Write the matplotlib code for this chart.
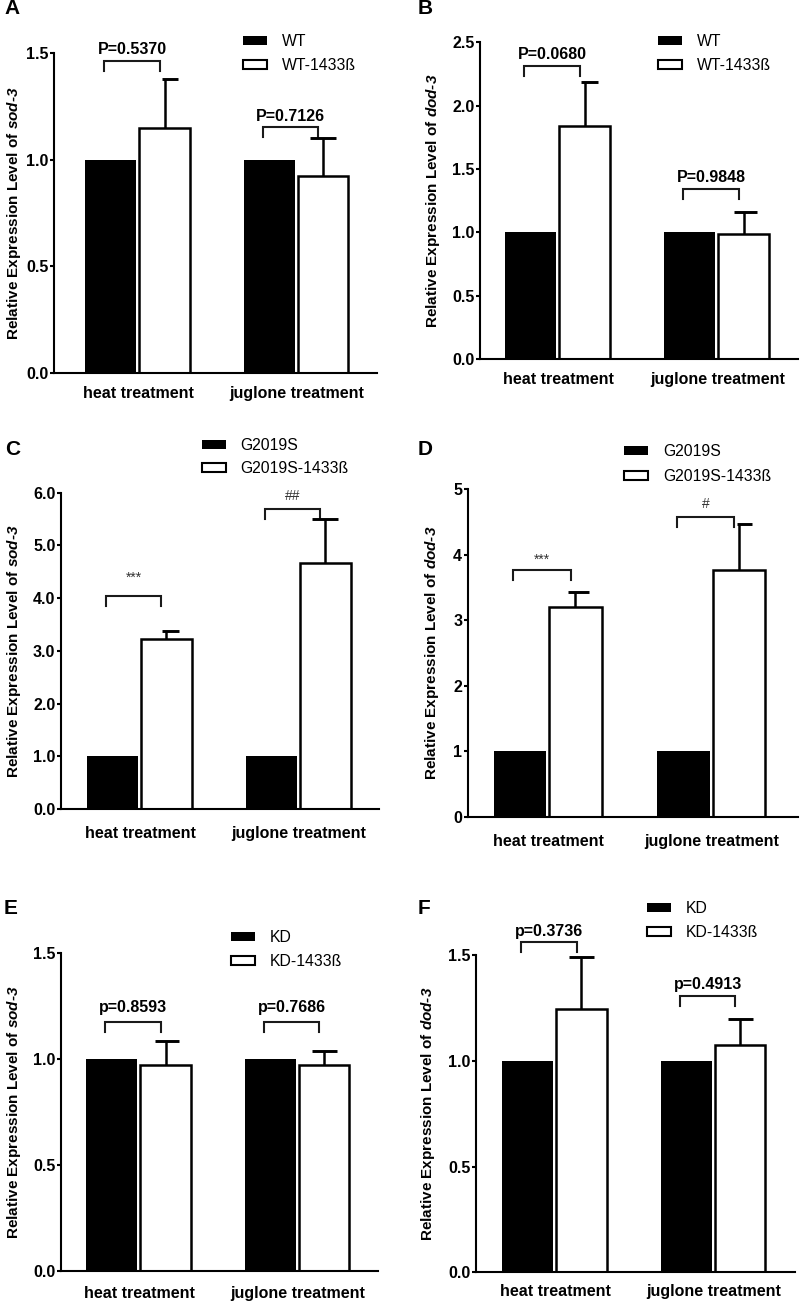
import matplotlib
matplotlib.use("Agg")
import matplotlib.pyplot as plt
from matplotlib.patches import Patch

plt.rcParams['font.family'] = ['Liberation Sans', 'DejaVu Sans']
plt.rcParams['mathtext.fontset'] = 'custom'
plt.rcParams['mathtext.rm'] = 'Liberation Sans'
plt.rcParams['mathtext.it'] = 'Liberation Sans:italic'
plt.rcParams['mathtext.bf'] = 'Liberation Sans:bold'
plt.rcParams['mathtext.bfit'] = 'Liberation Sans:italic:bold'

# ---------------- data ----------------
categories = ['heat treatment', 'juglone treatment']

a_names = ['WT', 'WT-1433ß']
a_ctrl = [1.0, 1.0]
a_treat = [1.148, 0.924]
a_err = [0.231, 0.180]
a_sig = ['P=0.5370', 'P=0.7126']
a_brk = [1.464, 1.155]

b_names = ['WT', 'WT-1433ß']
b_ctrl = [1.0, 1.0]
b_treat = [1.84, 0.986]
b_err = [0.35, 0.174]
b_sig = ['P=0.0680', 'P=0.9848']
b_brk = [2.315, 1.34]

c_names = ['G2019S', 'G2019S-1433ß']
c_ctrl = [1.0, 1.0]
c_treat = [3.225, 4.67]
c_err = [0.155, 0.825]
c_sig = ['***', '##']
c_brk = [4.04, 5.70]

d_names = ['G2019S', 'G2019S-1433ß']
d_ctrl = [1.0, 1.0]
d_treat = [3.198, 3.767]
d_err = [0.238, 0.698]
d_sig = ['***', '#']
d_brk = [3.767, 4.58]

e_names = ['KD', 'KD-1433ß']
e_ctrl = [1.0, 1.0]
e_treat = [0.972, 0.972]
e_err = [0.112, 0.068]
e_sig = ['p=0.8593', 'p=0.7686']
e_brk = [1.177, 1.177]

f_names = ['KD', 'KD-1433ß']
f_ctrl = [1.0, 1.0]
f_treat = [1.243, 1.075]
f_err = [0.249, 0.121]
f_sig = ['p=0.3736', 'p=0.4913']
f_brk = [1.56, 1.308]

ticks_15 = [0.0, 0.5, 1.0, 1.5]
ticks_25 = [0.0, 0.5, 1.0, 1.5, 2.0, 2.5]
ticks_6 = [0, 1, 2, 3, 4, 5, 6]
ticks_5 = [0, 1, 2, 3, 4, 5]

# ---------------- layout / style ----------------
W, H = 800, 1302
fig = plt.figure(figsize=(W / 100, H / 100), dpi=100)

panels = [
    dict(letter='A', lp=(4, 9), names=a_names, ctrl=a_ctrl, treat=a_treat, err=a_err,
         sig=a_sig, brk=a_brk, gene='sod', ymax=1.5, ticks=ticks_15, fmt='{:.1f}',
         rect=(54, 377, 53.3, 372.7), xlim=(-0.533, 1.505), ylab_d=31.3,
         leg=(243, 43), leg_row=27, capl=[0.014, 0.084], sig_off=[5, 4.5],
         leg_len=0.047, xpad=9.5),
    dict(letter='B', lp=(418, 9), names=b_names, ctrl=b_ctrl, treat=b_treat, err=b_err,
         sig=b_sig, brk=b_brk, gene='dod', ymax=2.5, ticks=ticks_25, fmt='{:.1f}',
         rect=(480, 798, 42.3, 359.3), xlim=(-0.494, 1.506), ylab_d=38.3,
         leg=(658, 43), leg_row=27, capl=[0.025, 0.063], sig_off=[5, 5],
         leg_len=0.079, xpad=9.5),
    dict(letter='C', lp=(5, 450), names=c_names, ctrl=c_ctrl, treat=c_treat, err=c_err,
         sig=c_sig, brk=c_brk, gene='sod', ymax=6.0, ticks=ticks_6, fmt='{:.1f}',
         rect=(61, 379, 492.7, 809), xlim=(-0.497, 1.503), ylab_d=37.7,
         leg=(201.7, 446.7), leg_row=26.6, capl=[0.024, 0.084], sig_off=[10, 6],
         leg_len=0.19, xpad=12),
    dict(letter='D', lp=(418, 450), names=d_names, ctrl=d_ctrl, treat=d_treat, err=d_err,
         sig=d_sig, brk=d_brk, gene='dod', ymax=5.0, ticks=ticks_5, fmt='{:d}',
         rect=(467.7, 798, 489.3, 816.7), xlim=(-0.494, 1.526), ylab_d=27,
         leg=(624, 453.3), leg_row=27.7, capl=[0.045, 0.012], sig_off=[4.6, 6.1],
         leg_len=0.153, xpad=12.5),
    dict(letter='E', lp=(4, 908), names=e_names, ctrl=e_ctrl, treat=e_treat, err=e_err,
         sig=e_sig, brk=e_brk, gene='sod', ymax=1.5, ticks=ticks_15, fmt='{:.1f}',
         rect=(61, 378, 953.3, 1270.7), xlim=(-0.495, 1.505), ylab_d=37.7,
         leg=(230.7, 939), leg_row=26.7, capl=[0.07, 0.074], sig_off=[6.8, 6.8],
         leg_len=0.047, xpad=11),
    dict(letter='F', lp=(418, 908), names=f_names, ctrl=f_ctrl, treat=f_treat, err=f_err,
         sig=f_sig, brk=f_brk, gene='dod', ymax=1.5, ticks=ticks_15, fmt='{:.1f}',
         rect=(476, 795, 955, 1272.3), xlim=(-0.5, 1.511), ylab_d=39.3,
         leg=(647.3, 910), leg_row=26.7, capl=[0.078, 0.078], sig_off=[4.4, 4.5],
         leg_len=0.047, xpad=8.5),
]

BW = 0.32
CAPR = 0.082
LW_BAR = 1.8
FS = 11.5

for p in panels:
    l, r, t, b = p['rect']
    ax = fig.add_axes([l / W, 1 - b / H, (r - l) / W, (b - t) / H])
    x = list(range(len(categories)))
    xb = [xi - 0.175 for xi in x]
    xw = [xi + 0.165 for xi in x]
    ax.bar(xb, p['ctrl'], width=BW, color='black', linewidth=0, zorder=2)
    ax.bar(xw, p['treat'], width=BW, facecolor='white', edgecolor='black',
           linewidth=LW_BAR, zorder=2)
    for i in range(len(categories)):
        top = p['treat'][i] + p['err'][i]
        ax.vlines(xw[i], p['treat'][i], top, color='black', lw=LW_BAR, zorder=3)
        ax.hlines(top, xw[i] - p['capl'][i], xw[i] + CAPR, color='black',
                  lw=LW_BAR + 0.3, zorder=3, clip_on=False)
        xl = xb[i] - 0.04
        xr = xw[i] - 0.03
        h = p['brk'][i]
        ax.plot([xl, xl, xr, xr], [h - p['leg_len'], h, h, h - p['leg_len']],
                color='#1a1a1a', lw=1.5, clip_on=False, solid_joinstyle='miter')
        s = p['sig'][i]
        is_p = s.lower().startswith('p')
        ax.annotate(s, xy=((xl + xr) / 2, h), xytext=(0, p['sig_off'][i]),
                    textcoords='offset points', ha='center', va='baseline',
                    fontsize=FS if is_p else 10,
                    fontweight='bold' if is_p else 'normal',
                    color='black' if is_p else '#333333',
                    annotation_clip=False)

    ax.set_xlim(*p['xlim'])
    ax.set_ylim(0, p['ymax'])
    ax.set_yticks(p['ticks'], [p['fmt'].format(v) for v in p['ticks']],
                  fontsize=FS, fontweight='bold')
    ax.set_xticks(x, categories, fontsize=FS, fontweight='bold')
    ax.tick_params(axis='y', direction='out', length=3, width=1.5, pad=1)
    ax.tick_params(axis='x', length=0, pad=p['xpad'])
    for sp in ['top', 'right']:
        ax.spines[sp].set_visible(False)
    for sp in ['left', 'bottom']:
        ax.spines[sp].set_linewidth(1.5)
    ax.set_ylabel('Relative Expression Level of $\\mathbfit{' + p['gene'] + '‐3}$',
                  fontsize=11, fontweight='bold')
    ax.yaxis.set_label_coords(-p['ylab_d'] / (r - l), 0.5)

    handles = [Patch(facecolor='black', edgecolor='black', linewidth=0),
               Patch(facecolor='white', edgecolor='black', linewidth=1.5)]
    lx, ly = p['leg']
    fsz_px = 11.3 * 100 / 72
    ax.legend(handles, p['names'], loc='upper left',
              bbox_to_anchor=(lx / W, 1 - (ly - 9) / H), bbox_transform=fig.transFigure,
              frameon=False, fontsize=11.3, borderpad=0, borderaxespad=0,
              handlelength=1.53, handleheight=0.53, handletextpad=0.95,
              labelspacing=(p['leg_row'] - 18) / fsz_px)

    fig.text(p['lp'][0] / W, 1 - p['lp'][1] / H, p['letter'], fontsize=15,
             fontweight='bold', ha='left', va='center')

fig.savefig('out.png', dpi=100)
